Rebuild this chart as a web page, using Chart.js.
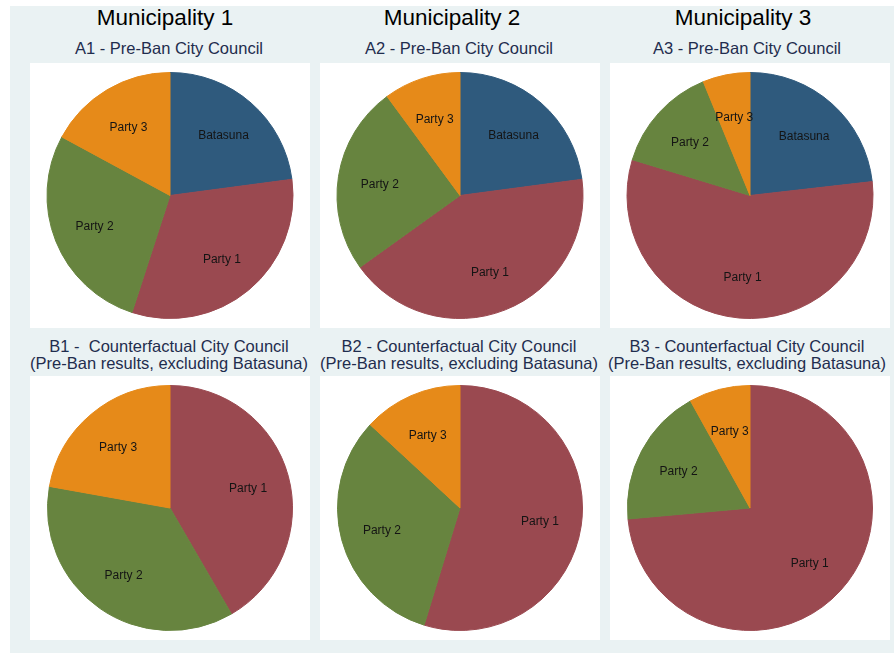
<!DOCTYPE html>
<html>
<head>
<meta charset="utf-8">
<script src="https://cdn.jsdelivr.net/npm/chart.js@4/dist/chart.umd.min.js"></script>
<style>
  html, body { margin: 0; padding: 0; background: #ffffff; }
  body { width: 894px; height: 653px; position: relative; overflow: hidden; font-family: "Liberation Sans", Arial, sans-serif; }
  .backdrop { position: absolute; left: 10px; top: 6px; width: 884px; height: 647px; background: #eaf2f3; }
  .heading { position: absolute; width: 300px; margin-left: -150px; text-align: center; font-size: 22.5px; line-height: 1; color: #000; white-space: pre; }
  .sub { position: absolute; width: 320px; margin-left: -160px; text-align: center; font-size: 16.5px; line-height: 17.5px; color: #1f2d4e; white-space: pre; }
  .panel { position: absolute; width: 280px; background: #ffffff; }
  .panel canvas { display: block; }
</style>
</head>
<body>
<div class="backdrop"></div>
<div id="page"></div>
<script>
// vote shares per municipality, before the ban and with Batasuna removed
const preBanLabels = ["Batasuna", "Party 1", "Party 2", "Party 3"];
const counterLabels = ["Party 1", "Party 2", "Party 3"];

const preBan1 = [22.9, 32.1, 27.9, 17.1];
const preBan2 = [22.9, 42.2, 24.8, 10.1];
const preBan3 = [23.2, 56.5, 14.1, 6.2];

const counter1 = [32.1, 27.9, 17.1];
const counter2 = [42.2, 24.8, 10.1];
const counter3 = [56.5, 14.1, 6.2];

const headings = ["Municipality 1", "Municipality 2", "Municipality 3"];
const preBanTitles = ["A1 - Pre-Ban City Council", "A2 - Pre-Ban City Council", "A3 - Pre-Ban City Council"];
const counterTitles = [
  "B1 -  Counterfactual City Council\n(Pre-Ban results, excluding Batasuna)",
  "B2 - Counterfactual City Council\n(Pre-Ban results, excluding Batasuna)",
  "B3 - Counterfactual City Council\n(Pre-Ban results, excluding Batasuna)"
];

const partyColors = {
  "Batasuna": "#2f5a7d",
  "Party 1": "#9a4950",
  "Party 2": "#67843f",
  "Party 3": "#e68a19"
};

const columnX = [30, 320, 610];
const headingX = [165, 452, 743];
const subX = [169, 459, 747];

// draw the party name inside each slice, along its bisector
const sliceLabels = {
  id: "sliceLabels",
  afterDatasetsDraw(chart) {
    const ctx = chart.ctx;
    const meta = chart.getDatasetMeta(0);
    ctx.save();
    ctx.font = "12px 'Liberation Sans', Arial, sans-serif";
    ctx.fillStyle = "#141414";
    ctx.textAlign = "center";
    ctx.textBaseline = "middle";
    meta.data.forEach((arc, i) => {
      const p = arc.getProps(["x", "y", "startAngle", "endAngle", "outerRadius"], true);
      const mid = (p.startAngle + p.endAngle) / 2;
      const r = p.outerRadius * 0.66;
      ctx.fillText(chart.data.labels[i], p.x + Math.cos(mid) * r, p.y + Math.sin(mid) * r + 1.5);
    });
    ctx.restore();
  }
};

function addText(cls, text, x, y) {
  const el = document.createElement("div");
  el.className = cls;
  el.textContent = text;
  el.style.left = x + "px";
  el.style.top = y + "px";
  document.getElementById("page").appendChild(el);
}

function addPie(labels, values, x, y, h) {
  const box = document.createElement("div");
  box.className = "panel";
  box.style.left = x + "px";
  box.style.top = y + "px";
  box.style.height = h + "px";
  const canvas = document.createElement("canvas");
  box.appendChild(canvas);
  document.getElementById("page").appendChild(box);

  const colors = labels.map((l) => partyColors[l]);
  new Chart(canvas.getContext("2d"), {
    type: "pie",
    data: {
      labels,
      datasets: [{
        data: values,
        backgroundColor: colors,
        borderColor: colors,
        borderWidth: 1
      }]
    },
    options: {
      responsive: true,
      maintainAspectRatio: false,
      animation: false,
      events: [],
      layout: { padding: 9 },
      plugins: {
        legend: { display: false },
        tooltip: { enabled: false },
        title: { display: false }
      }
    },
    plugins: [sliceLabels]
  });
}

const preBanData = [preBan1, preBan2, preBan3];
const counterData = [counter1, counter2, counter3];

for (let i = 0; i < 3; i++) {
  addText("heading", headings[i], headingX[i], 7);
  addText("sub", preBanTitles[i], subX[i], 40);
  addText("sub", counterTitles[i], subX[i], 337.5);
  addPie(preBanLabels, preBanData[i], columnX[i], 63, 265);
  addPie(counterLabels, counterData[i], columnX[i], 376, 264);
}
</script>
</body>
</html>
